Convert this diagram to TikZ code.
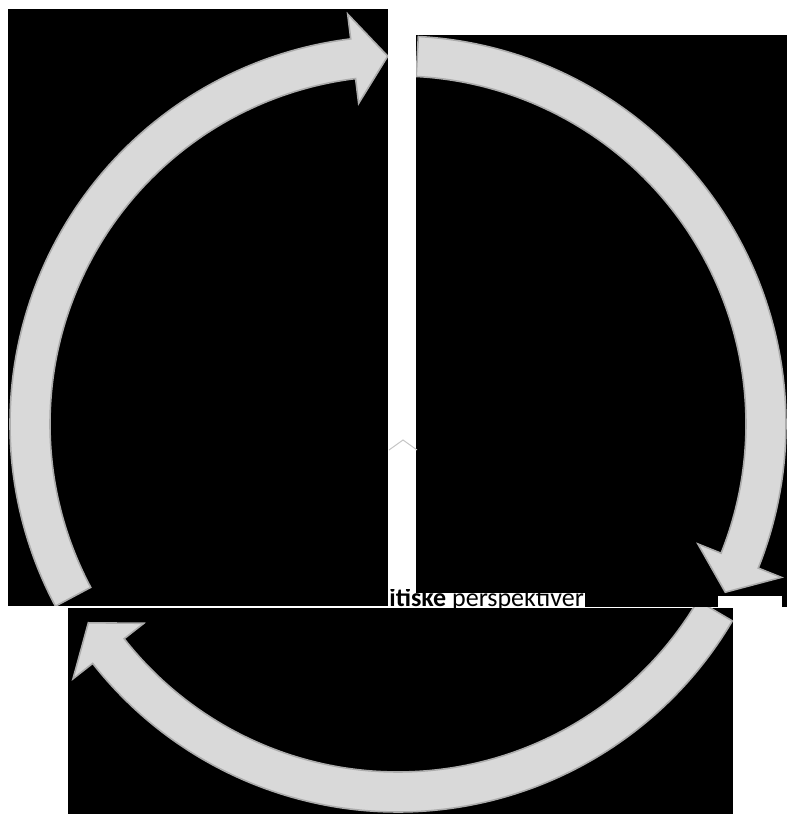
\documentclass[tikz,border=0pt]{standalone}
\usepackage{xcolor}
\usepackage{fontspec}
\setmainfont{Carlito}
\usetikzlibrary{positioning}

\definecolor{arrowfill}{RGB}{217,217,217}
\definecolor{arrowedge}{RGB}{172,172,172}
\definecolor{squiggle}{RGB}{240,175,175}

% one arrow of the ring: tail angle, head base angle, tip angle
\newcommand{\cyclearrow}[3]{%
  \draw[ringarrow] (#1:388pt) arc[start angle=#1, end angle=#2, radius=388pt]
    -- (#2:413pt) -- (#3:368pt) -- (#2:323pt) -- (#2:348pt)
    arc[start angle=#2, end angle=#1, radius=348pt] -- cycle;}

\begin{document}
\begin{tikzpicture}[x=1pt, y=1pt,
        ringarrow/.style={fill=arrowfill, draw=arrowedge, line width=1.6pt, line join=miter},
        backdrop/.style={fill=black},
        caption/.style={font=\fontsize{26}{29}\selectfont, inner sep=0pt, text=black}]
    \useasboundingbox (0,0) rectangle (787,814);

    \fill[backdrop] (416,207) rectangle (787,779);
    \fill[white] (416,207) rectangle (585,221);
    \fill[white] (718,207) rectangle (782,218);

    \begin{scope}
        \clip (388,206) rectangle (585,224);
        \node[caption, anchor=base east] (perspektiv) at (584,207)
            {\textbf{Etiske og politiske} perspektiver};
        \draw[squiggle, line width=0.8pt] ([yshift=-1pt]perspektiv.base west) -- ([yshift=-1pt]perspektiv.base east);
    \end{scope}

    \fill[backdrop] (8,208) rectangle (388,805);
    \fill[backdrop] (68,0) rectangle (733,206);

    % faint tip in the gap
    \draw[gray!45, line width=1pt] (389,364) -- (403,374) -- (417,364);

    \begin{scope}
        \clip (8,208) rectangle (388,805);
        \begin{scope}[shift={(398,390)}]
            \cyclearrow{208}{97}{91.6}
        \end{scope}
    \end{scope}
    \begin{scope}
        \clip (416,207) rectangle (787,779);
        \begin{scope}[shift={(398,390)}]
            \cyclearrow{87}{-21.8}{-27.2}
        \end{scope}
    \end{scope}
    \begin{scope}
        \clip (68,0) rectangle (733,206);
        \begin{scope}[shift={(398,390)}]
            \cyclearrow{-30.5}{-141.9}{-147.3}
        \end{scope}
    \end{scope}
\end{tikzpicture}
\end{document}
